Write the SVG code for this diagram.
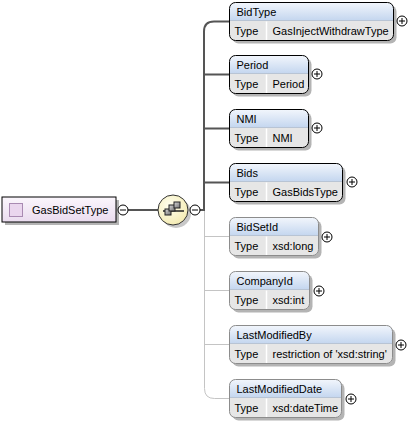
<svg xmlns="http://www.w3.org/2000/svg" width="410" height="424" viewBox="0 0 410 424">
<defs>
<linearGradient id="hdr" x1="0" y1="0" x2="0" y2="1">
<stop offset="0" stop-color="#f2f6fc"/>
<stop offset="1" stop-color="#c4d6ef"/>
</linearGradient>
<linearGradient id="root" x1="0" y1="0" x2="0" y2="1">
<stop offset="0" stop-color="#fbf6fc"/>
<stop offset="1" stop-color="#eadcef"/>
</linearGradient>
<radialGradient id="seq" cx="0.4" cy="0.35" r="0.7">
<stop offset="0" stop-color="#fffff0"/>
<stop offset="1" stop-color="#f3eab0"/>
</radialGradient>
<linearGradient id="mini" x1="0" y1="0" x2="1" y2="1">
<stop offset="0" stop-color="#d8d8d8"/>
<stop offset="1" stop-color="#707070"/>
</linearGradient>
<g id="plus">
<circle r="5" fill="#fff" stroke="#000" stroke-width="1"/>
<path d="M-3,0H3M0,-3V3" stroke="#000" stroke-width="1"/>
</g>
<g id="minus">
<circle r="5" fill="#fff" stroke="#000" stroke-width="1"/>
<path d="M-3,0H3" stroke="#000" stroke-width="1"/>
</g>
</defs>
<style>
text{font-family:"Liberation Sans",Arial,sans-serif;font-size:11px;fill:#000}
.shadow{fill:#b4b4b4}
.hd{fill:url(#hdr)}
.row{fill:#e6e6e6}
.sep{stroke:#fff;stroke-width:1.5}
.hsep{stroke:#b8c4d4;stroke-width:1}
.req{fill:none;stroke:#000;stroke-width:1}
.opt{fill:none;stroke:#8c8c8c;stroke-width:1}
.thick{fill:none;stroke:#555;stroke-width:2}
.thin{fill:none;stroke:#c4c4c4;stroke-width:1}
</style>

<g id="connectors">
<path class="thin" d="M128,210H158"/>
<path class="thick" d="M128,210H158"/>
<path class="thick" d="M200,210H204V31.5Q204,21.5 214,21.5H229"/>
<path class="thick" d="M204,74.5H229M204,128.5H229M204,182.5H229"/>
<path class="thin" d="M204.5,211V388.5Q204.5,398.5 214.5,398.5H229"/>
<path class="thin" d="M204.5,236.5H229M204.5,290.5H229M204.5,344.5H229"/>
</g>

<g id="GasBidSetType">
<rect class="shadow" x="5" y="200" width="114" height="25"/>
<rect x="2" y="197" width="114" height="25" fill="url(#root)" stroke="#000" stroke-width="1"/>
<rect x="9.5" y="203.5" width="13" height="13" fill="#ead6ee" stroke="#a98ab2" stroke-width="1"/>
<text x="32" y="213.5">GasBidSetType</text>
<use href="#minus" x="123" y="210"/>
</g>

<g id="sequence">
<circle cx="176" cy="213" r="15" fill="#c8c8c8"/>
<circle cx="173" cy="210" r="15" fill="url(#seq)" stroke="#333" stroke-width="1"/>
<path d="M163,211H184" stroke="#222" stroke-width="1.5"/>
<rect x="165" y="209" width="6" height="6" fill="url(#mini)" stroke="#222" stroke-width="1"/>
<rect x="169" y="205" width="6" height="6" fill="url(#mini)" stroke="#222" stroke-width="1"/>
<rect x="174" y="202" width="6" height="6" fill="url(#mini)" stroke="#222" stroke-width="1"/>
<use href="#minus" x="195" y="210"/>
</g>

<g id="BidType" transform="translate(229.5,2.5)">
<rect class="shadow" x="3" y="3" width="164" height="38" rx="6"/>
<path class="hd" d="M0,18V6Q0,0 6,0H158Q164,0 164,6V18Z"/>
<path class="row" d="M0,18H164V32Q164,38 158,38H6Q0,38 0,32Z"/>
<path class="hsep" d="M0,18H164"/>
<path class="sep" d="M37,19V38"/>
<rect class="req" x="0" y="0" width="164" height="38" rx="6"/>
<text x="7" y="13">BidType</text>
<text x="5" y="32">Type</text>
<text x="43" y="32">GasInjectWithdrawType</text>
</g>
<use href="#plus" x="402" y="21"/>

<g id="Period" transform="translate(229.5,55.5)">
<rect class="shadow" x="3" y="3" width="79" height="38" rx="6"/>
<path class="hd" d="M0,18V6Q0,0 6,0H73Q79,0 79,6V18Z"/>
<path class="row" d="M0,18H79V32Q79,38 73,38H6Q0,38 0,32Z"/>
<path class="hsep" d="M0,18H79"/>
<path class="sep" d="M37,19V38"/>
<rect class="req" x="0" y="0" width="79" height="38" rx="6"/>
<text x="7" y="13">Period</text>
<text x="5" y="32">Type</text>
<text x="43" y="32">Period</text>
</g>
<use href="#plus" x="317" y="74"/>

<g id="NMI" transform="translate(229.5,109.5)">
<rect class="shadow" x="3" y="3" width="79" height="38" rx="6"/>
<path class="hd" d="M0,18V6Q0,0 6,0H73Q79,0 79,6V18Z"/>
<path class="row" d="M0,18H79V32Q79,38 73,38H6Q0,38 0,32Z"/>
<path class="hsep" d="M0,18H79"/>
<path class="sep" d="M37,19V38"/>
<rect class="req" x="0" y="0" width="79" height="38" rx="6"/>
<text x="7" y="13">NMI</text>
<text x="5" y="32">Type</text>
<text x="43" y="32">NMI</text>
</g>
<use href="#plus" x="317" y="128"/>

<g id="Bids" transform="translate(229.5,163.5)">
<rect class="shadow" x="3" y="3" width="113" height="38" rx="6"/>
<path class="hd" d="M0,18V6Q0,0 6,0H107Q113,0 113,6V18Z"/>
<path class="row" d="M0,18H113V32Q113,38 107,38H6Q0,38 0,32Z"/>
<path class="hsep" d="M0,18H113"/>
<path class="sep" d="M37,19V38"/>
<rect class="req" x="0" y="0" width="113" height="38" rx="6"/>
<text x="7" y="13">Bids</text>
<text x="5" y="32">Type</text>
<text x="43" y="32">GasBidsType</text>
</g>
<use href="#plus" x="352" y="182"/>

<g id="BidSetId" transform="translate(229.5,217.5)">
<rect class="shadow" x="3" y="3" width="89" height="38" rx="6"/>
<path class="hd" d="M0,18V6Q0,0 6,0H83Q89,0 89,6V18Z"/>
<path class="row" d="M0,18H89V32Q89,38 83,38H6Q0,38 0,32Z"/>
<path class="hsep" d="M0,18H89"/>
<path class="sep" d="M37,19V38"/>
<rect class="opt" x="0" y="0" width="89" height="38" rx="6"/>
<text x="7" y="13">BidSetId</text>
<text x="5" y="32">Type</text>
<text x="43" y="32">xsd:long</text>
</g>
<use href="#plus" x="327" y="237"/>

<g id="CompanyId" transform="translate(229.5,271.5)">
<rect class="shadow" x="3" y="3" width="80" height="38" rx="6"/>
<path class="hd" d="M0,18V6Q0,0 6,0H74Q80,0 80,6V18Z"/>
<path class="row" d="M0,18H80V32Q80,38 74,38H6Q0,38 0,32Z"/>
<path class="hsep" d="M0,18H80"/>
<path class="sep" d="M37,19V38"/>
<rect class="opt" x="0" y="0" width="80" height="38" rx="6"/>
<text x="7" y="13">CompanyId</text>
<text x="5" y="32">Type</text>
<text x="43" y="32">xsd:int</text>
</g>
<use href="#plus" x="319" y="291"/>

<g id="LastModifiedBy" transform="translate(229.5,325.5)">
<rect class="shadow" x="3" y="3" width="163" height="38" rx="6"/>
<path class="hd" d="M0,18V6Q0,0 6,0H157Q163,0 163,6V18Z"/>
<path class="row" d="M0,18H163V32Q163,38 157,38H6Q0,38 0,32Z"/>
<path class="hsep" d="M0,18H163"/>
<path class="sep" d="M37,19V38"/>
<rect class="opt" x="0" y="0" width="163" height="38" rx="6"/>
<text x="7" y="13">LastModifiedBy</text>
<text x="5" y="32">Type</text>
<text x="43" y="32">restriction of 'xsd:string'</text>
</g>
<use href="#plus" x="401" y="345"/>

<g id="LastModifiedDate" transform="translate(229.5,379.5)">
<rect class="shadow" x="3" y="3" width="112" height="38" rx="6"/>
<path class="hd" d="M0,18V6Q0,0 6,0H106Q112,0 112,6V18Z"/>
<path class="row" d="M0,18H112V32Q112,38 106,38H6Q0,38 0,32Z"/>
<path class="hsep" d="M0,18H112"/>
<path class="sep" d="M37,19V38"/>
<rect class="opt" x="0" y="0" width="112" height="38" rx="6"/>
<text x="7" y="13">LastModifiedDate</text>
<text x="5" y="32">Type</text>
<text x="43" y="32">xsd:dateTime</text>
</g>
<use href="#plus" x="351" y="399"/>
</svg>
